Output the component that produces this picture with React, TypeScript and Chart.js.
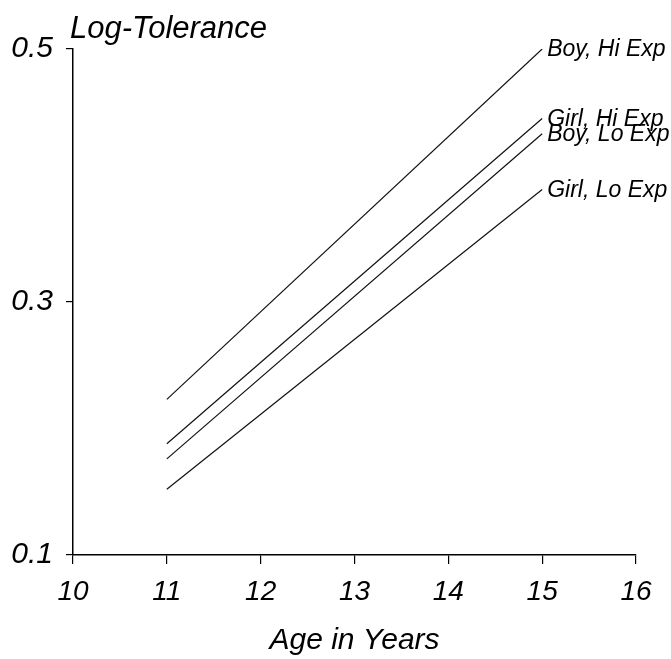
import React, { useEffect, useRef } from "react";
import { Chart, registerables } from "chart.js";

Chart.register(...registerables);

// ---- data ----
const ages = [11, 15];
const boyHiExp = [0.223, 0.5];
const girlHiExp = [0.188, 0.445];
const boyLoExp = [0.176, 0.433];
const girlLoExp = [0.152, 0.389];
const seriesNames = ["Boy, Hi Exp", "Girl, Hi Exp", "Boy, Lo Exp", "Girl, Lo Exp"];
const seriesValues = [boyHiExp, girlHiExp, boyLoExp, girlLoExp];
const xTickValues = [10, 11, 12, 13, 14, 15, 16];
const yTickValues = [0.1, 0.3, 0.5];
const yAxisLabel = "Log-Tolerance";
const xAxisLabel = "Age in Years";

const FONT = "'Liberation Sans', Arial, Helvetica, sans-serif";

const labelPlugin = {
  id: "lineLabels",
  afterDatasetsDraw(chart: any) {
    const ctx = chart.ctx;
    const xs = chart.scales.x;
    const ys = chart.scales.y;
    ctx.save();
    ctx.fillStyle = "#000";
    // end-of-line labels
    ctx.font = `italic 23px ${FONT}`;
    ctx.textAlign = "left";
    ctx.textBaseline = "middle";
    chart.data.datasets.forEach((ds: any) => {
      const last = ds.data[ds.data.length - 1];
      const px = xs.getPixelForValue(last.x);
      const py = ys.getPixelForValue(last.y);
      ctx.fillText(ds.label, px + 5, py + 1);
    });
    // y-axis label at the top
    ctx.font = `italic 31px ${FONT}`;
    ctx.textBaseline = "alphabetic";
    ctx.fillText(yAxisLabel, chart.chartArea.left - 3, chart.chartArea.top - 11);
    ctx.restore();
  },
};

export default function App() {
  const ref = useRef<HTMLCanvasElement | null>(null);
  useEffect(() => {
    if (!ref.current) return;
    const chart = new Chart(ref.current, {
      type: "line",
      data: {
        datasets: seriesValues.map((vals, i) => ({
          label: seriesNames[i],
          data: ages.map((a, j) => ({ x: a, y: vals[j] })),
          borderColor: "#111",
          borderWidth: 1.2,
          pointRadius: 0,
          fill: false,
          tension: 0,
        })),
      },
      options: {
        animation: false,
        responsive: false,
        devicePixelRatio: 1,
        layout: { padding: { top: 49, right: 35, left: 0, bottom: 0 } },
        plugins: {
          legend: { display: false },
          tooltip: { enabled: false },
          title: { display: false },
        },
        scales: {
          x: {
            type: "linear",
            min: 10,
            max: 16,
            afterBuildTicks: (s: any) => {
              s.ticks = xTickValues.map((v) => ({ value: v }));
            },
            afterFit: (s: any) => {
              s.height = 104;
            },
            ticks: {
              color: "#000",
              font: { family: FONT, size: 28, style: "italic" },
              padding: 11,
              maxRotation: 0,
              autoSkip: false,
              callback: (v: any) => String(v),
            },
            grid: {
              display: true,
              drawOnChartArea: false,
              drawTicks: true,
              tickLength: 9,
              color: "#000",
              lineWidth: 1.2,
            },
            border: { display: true, color: "#000", width: 1.5 },
            title: {
              display: true,
              text: xAxisLabel,
              color: "#000",
              font: { family: FONT, size: 30, style: "italic" },
              padding: { top: 0, bottom: 0 },
            },
          },
          y: {
            type: "linear",
            min: 0.1,
            max: 0.5,
            afterBuildTicks: (s: any) => {
              s.ticks = yTickValues.map((v) => ({ value: v }));
            },
            afterFit: (s: any) => {
              s.width = 73;
            },
            ticks: {
              color: "#000",
              font: { family: FONT, size: 30, style: "italic" },
              padding: 13,
              autoSkip: false,
              callback: (v: any) => Number(v).toFixed(1),
            },
            grid: {
              display: true,
              drawOnChartArea: false,
              drawTicks: true,
              tickLength: 7,
              color: "#000",
              lineWidth: 1.2,
            },
            border: { display: true, color: "#000", width: 1.5 },
          },
        },
      },
      plugins: [labelPlugin],
    });
    return () => chart.destroy();
  }, []);
  return (
    <div style={{ position: "absolute", left: 0, top: 0, width: 671, height: 659, background: "#fff" }}>
      <canvas ref={ref} width={671} height={659} style={{ width: 671, height: 659, display: "block" }} />
    </div>
  );
}
